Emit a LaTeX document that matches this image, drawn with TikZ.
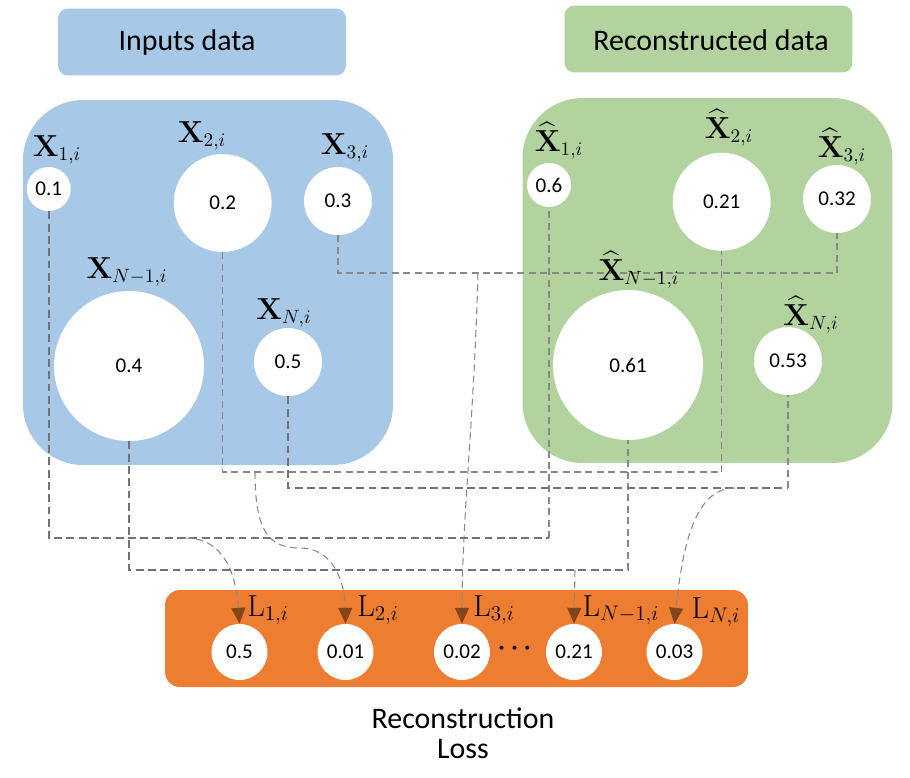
\documentclass[tikz,border=0pt]{standalone}
\usepackage{amsmath,amssymb}
\usepackage[no-math]{fontspec}
\setmainfont{Carlito}
\usetikzlibrary{arrows.meta,positioning}

\definecolor{inblue}{RGB}{167,201,231}
\definecolor{recgreen}{RGB}{178,211,158}
\definecolor{lossorange}{RGB}{237,125,49}
\definecolor{arrbrown}{RGB}{132,70,25}
\definecolor{linkgray}{RGB}{115,115,115}

\begin{document}
\begin{tikzpicture}[
    x=0.02cm, y=-0.02cm,
    panel/.style={fill=#1, rounded corners=1.2cm, inner sep=0pt, minimum width=7.4cm, minimum height=7.3cm},
    tag/.style={fill=#1, rounded corners=0.2cm, inner sep=0pt, minimum width=5.76cm, minimum height=1.34cm},
    val/.style={circle, fill=white, inner sep=0pt, minimum size=#1*0.04cm, font=\fontsize{12}{14}\selectfont},
    var/.style={inner sep=0pt, font=\fontsize{16}{18}\selectfont},
    lvar/.style={inner sep=0pt, font=\fontsize{17}{19}\selectfont},
    heading/.style={font=\fontsize{17}{17}\selectfont, align=center},
    link/.style={draw=linkgray, line width=1.1pt, dash pattern=on 4.5pt off 2.5pt},
    thinlink/.style={draw=linkgray!85, line width=0.6pt, dash pattern=on 4pt off 2.5pt},
    arr/.style={thinlink, -{Triangle[length=9pt, width=8pt, color=arrbrown]}},
]
\useasboundingbox (0,0) rectangle (910,778);

% Titles
\node[tag=inblue] (intag) at (202,42) {};
\node[heading] (intext) at (187,43) {Inputs data};
\node[tag=recgreen] (rectag) at (708.5,39) {};
\node[heading] (rectext) at (711,40) {Reconstructed data};

% Panels
\node[panel=inblue] (inbox) at (208,282.5) {};
\node[panel=recgreen] (recbox) at (707.5,280.5) {};
\node[fill=lossorange, rounded corners=0.3cm, inner sep=0pt, minimum width=11.66cm, minimum height=1.94cm] (lossbox) at (456.5,638.5) {};

% Input values
\node[val=22] (x1) at (48.7,189) {0.1};
\node[val=49] (x2) at (222.7,203) {0.2};
\node[val=34] (x3) at (338,201) {0.3};
\node[val=75] (x4) at (129,366) {0.4};
\node[val=34] (x5) at (288,362) {0.5};

% Reconstructed values
\node[val=22] (xh1) at (549,185) {0.6};
\node[val=49] (xh2) at (721.7,201.7) {0.21};
\node[val=34] (xh3) at (837,199) {0.32};
\node[val=75] (xh4) at (628,365) {0.61};
\node[val=34] (xh5) at (788,361) {0.53};

% Losses
\node[val=28] (l1) at (239.5,652) {0.5};
\node[val=28] (l2) at (345.5,652) {0.01};
\node[val=28] (l3) at (462,652) {0.02};
\node[val=28] (l4) at (574,652) {0.21};
\node[val=28] (l5) at (674.5,652) {0.03};
\node[font=\fontsize{15}{17}\selectfont] (ldots) at (517,648) {$\boldsymbol{\cdots}$};

% Bus levels
\coordinate (busa) at (0,538);
\coordinate (busb) at (0,570);
\coordinate (busc) at (0,472);
\coordinate (busd) at (0,488);
\coordinate (buse) at (0,273);

% Pairs
\draw[link] (x1.south) |- (busa -| xh1.south);
\draw[thinlink] (busa -| xh1.south) -- (xh1.south);
\draw[link] (x4.south) |- (busb -| xh4.south);
\draw[thinlink] (busb -| xh4.south) -- (xh4.south);
\draw[thinlink] (x2.south) |- (busc -| xh2.south);
\draw[thinlink] (busc -| xh2.south) -- (xh2.south);
\draw[link] (x5.south) |- (busd -| xh5.south);
\draw[thinlink] (busd -| xh5.south) -- (xh5.south);
\draw[thinlink] (x3.south) |- (buse -| xh3.south);
\draw[thinlink] (buse -| xh3.south) -- (xh3.south);

% Loss arrows
\coordinate (sa) at (185,538);
\coordinate (sc) at (255,472);
\coordinate (se) at (478,273);
\coordinate (sb) at (575,570);
\coordinate (sd) at (735,488);
\draw[arr] (sa) .. controls (225,538) and (236,575) .. (l1.north);
\draw[arr] (sc) .. controls (255,530) and (268,548) .. (300,548) .. controls (335,548) and (345,585) .. (l2.north);
\draw[arr] (se) .. controls (474,420) and (462,520) .. (l3.north);
\draw[arr] (sb) -- (l4.north);
\draw[arr] (sd) .. controls (700,488) and (684,530) .. (l5.north);

% Labels
\node[var] at (57,150) {$\mathbf{X}_{1,i}$};
\node[var] at (202,136) {$\mathbf{X}_{2,i}$};
\node[var] at (345,148) {$\mathbf{X}_{3,i}$};
\node[var] at (127,272) {$\mathbf{X}_{N-1,i}$};
\node[var] at (284,313) {$\mathbf{X}_{N,i}$};
\node[var] at (559,141) {$\widehat{\mathbf{X}}_{1,i}$};
\node[var] at (729,128) {$\widehat{\mathbf{X}}_{2,i}$};
\node[var] at (842,147) {$\widehat{\mathbf{X}}_{3,i}$};
\node[var] at (639,270) {$\widehat{\mathbf{X}}_{N-1,i}$};
\node[var] at (811,315) {$\widehat{\mathbf{X}}_{N,i}$};
\node[lvar] at (268,610) {$\mathrm{L}_{1,i}$};
\node[lvar] at (378,610) {$\mathrm{L}_{2,i}$};
\node[lvar] at (494,610) {$\mathrm{L}_{3,i}$};
\node[lvar] at (621,610) {$\mathrm{L}_{N-1,i}$};
\node[lvar] at (716,612) {$\mathrm{L}_{N,i}$};

\node[heading] (losstext) at (463,733) {Reconstruction\\Loss};
\end{tikzpicture}
\end{document}
